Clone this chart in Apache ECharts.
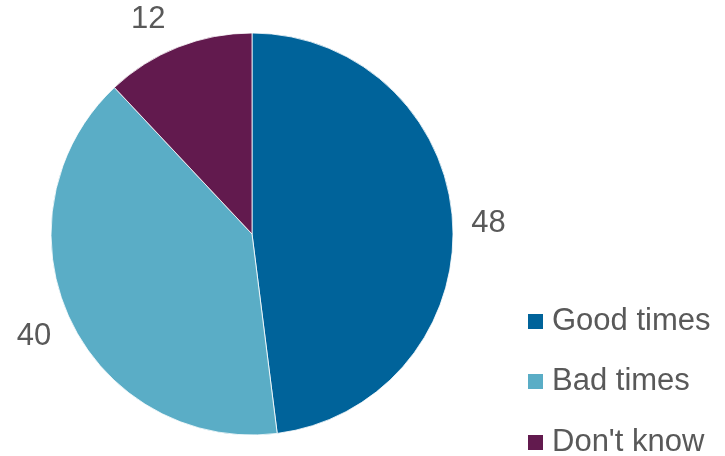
<!DOCTYPE html>
<html>
<head>
<meta charset="utf-8">
<script src="https://cdn.jsdelivr.net/npm/echarts@6/dist/echarts.min.js"></script>
<style>
html,body{margin:0;padding:0;background:#fff;}
#chart{width:725px;height:456px;}
</style>
</head>
<body>
<div id="chart"></div>
<script>
const categories = ['Good times', 'Bad times', "Don't know"];
const values = [48, 40, 12];
const colors = ['#00639A', '#5AADC6', '#621A4E'];
const labelNudges = [[-4, 5], [0, 0], [-15, 10]];
const legendTops = [306, 366, 427];

const data = categories.map((c, i) => ({ name: c, value: values[i], itemStyle: { color: colors[i] } }));
const ghostData = categories.map((c, i) => ({ name: c, value: values[i], label: { offset: labelNudges[i] } }));

const legends = categories.map((c, i) => ({
  type: 'plain',
  orient: 'vertical',
  left: 526,
  top: legendTops[i],
  padding: 0,
  icon: 'rect',
  itemWidth: 17,
  itemHeight: 17,
  data: [c],
  textStyle: { fontSize: 31, color: '#595959', lineHeight: 20, padding: [0, 0, 0, 3], fontFamily: 'Liberation Sans, Arial, sans-serif' },
  selectedMode: false
}));

const chart = echarts.init(document.getElementById('chart'), null, { renderer: 'canvas' });
chart.setOption({
  animation: false,
  textStyle: { fontFamily: 'Liberation Sans, Arial, sans-serif' },
  legend: legends,
  series: [
    {
      type: 'pie',
      center: [252, 234],
      radius: [0, 201],
      startAngle: 90,
      clockwise: true,
      label: { show: false },
      labelLine: { show: false },
      itemStyle: { borderColor: '#ffffff', borderWidth: 0.8 },
      emphasis: { disabled: true },
      data: data
    },
    {
      type: 'pie',
      center: [252, 234],
      radius: [226, 250],
      startAngle: 90,
      clockwise: true,
      silent: true,
      itemStyle: { color: 'rgba(0,0,0,0)' },
      label: {
        show: true,
        position: 'inside',
        formatter: '{c}',
        fontSize: 31,
        color: '#595959',
        fontFamily: 'Liberation Sans, Arial, sans-serif'
      },
      labelLine: { show: false },
      emphasis: { disabled: true },
      data: ghostData
    }
  ]
});
</script>
</body>
</html>
